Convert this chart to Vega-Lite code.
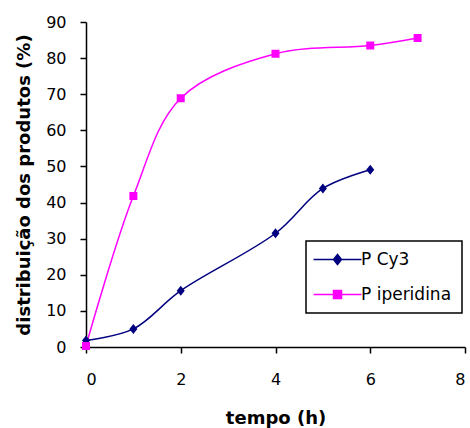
{
  "$schema": "https://vega.github.io/schema/vega-lite/v6.json",
  "autosize": "none",
  "width": 379,
  "height": 325,
  "padding": {"left": 86, "top": 22, "right": 5, "bottom": 81},
  "background": "white",
  "config": {
    "view": {"stroke": null},
    "font": "DejaVu Sans",
    "axis": {
      "grid": false,
      "domainColor": "black",
      "domainWidth": 1.5,
      "tickColor": "black",
      "tickWidth": 1.5,
      "tickSize": 6,
      "labelFont": "DejaVu Sans",
      "labelFontSize": 16,
      "labelColor": "black",
      "titleFont": "DejaVu Sans",
      "titleFontSize": 18,
      "titleFontWeight": "bold",
      "titleColor": "black"
    }
  },
  "data": {
    "values": [
      {"tempo": 0, "valor": 1.8, "serie": "P Cy3"},
      {"tempo": 1, "valor": 5.0, "serie": "P Cy3"},
      {"tempo": 2, "valor": 15.6, "serie": "P Cy3"},
      {"tempo": 4, "valor": 31.5, "serie": "P Cy3"},
      {"tempo": 5, "valor": 43.9, "serie": "P Cy3"},
      {"tempo": 6, "valor": 49.1, "serie": "P Cy3"},
      {"tempo": 0, "valor": 0.3, "serie": "P iperidina"},
      {"tempo": 1, "valor": 41.8, "serie": "P iperidina"},
      {"tempo": 2, "valor": 68.9, "serie": "P iperidina"},
      {"tempo": 4, "valor": 81.2, "serie": "P iperidina"},
      {"tempo": 6, "valor": 83.5, "serie": "P iperidina"},
      {"tempo": 7, "valor": 85.6, "serie": "P iperidina"}
    ]
  },
  "encoding": {
    "x": {
      "field": "tempo", "type": "quantitative",
      "scale": {"domain": [0, 8], "nice": false},
      "axis": {"title": "tempo (h)", "values": [0, 2, 4, 6, 8], "labelPadding": 18, "titlePadding": 22}
    },
    "y": {
      "field": "valor", "type": "quantitative",
      "scale": {"domain": [0, 90], "nice": false},
      "axis": {"title": "distribuição dos produtos (%)", "values": [0, 10, 20, 30, 40, 50, 60, 70, 80, 90], "labelPadding": 14, "titlePadding": 12}
    },
    "color": {
      "field": "serie", "type": "nominal",
      "scale": {"domain": ["P Cy3", "P iperidina"], "range": ["#000080", "#FF00FF"]},
      "legend": {
        "title": null,
        "orient": "none",
        "legendX": 220,
        "legendY": 219,
        "padding": 10,
        "strokeColor": "black",
        "fillColor": "white",
        "symbolSize": 100,
        "symbolOffset": 13,
        "symbolStrokeWidth": 1.5,
        "labelOffset": 15,
        "labelFont": "DejaVu Sans",
        "labelFontSize": 17,
        "labelColor": "black",
        "rowPadding": 17,
        "encode": {
          "legend": {"update": {"strokeWidth": {"value": 1.5}}},
          "symbols": {
            "update": {
              "stroke": {"scale": "color", "field": "value"},
              "strokeWidth": {"value": 1.5}
            }
          }
        }
      }
    }
  },
  "layer": [
    {
      "mark": {"type": "line", "interpolate": "catmull-rom", "strokeWidth": 1.5}
    },
    {
      "mark": {"type": "point", "filled": true, "size": 100, "opacity": 1, "strokeWidth": 0},
      "encoding": {
        "shape": {
          "field": "serie", "type": "nominal",
          "scale": {"domain": ["P Cy3", "P iperidina"], "range": ["M-4.8,0H4.8M0,-1L0.8,0L0,1L-0.8,0Z", "M-4.8,0H4.8M-0.8,-0.8H0.8V0.8H-0.8Z"]}
        }
      }
    }
  ]
}
